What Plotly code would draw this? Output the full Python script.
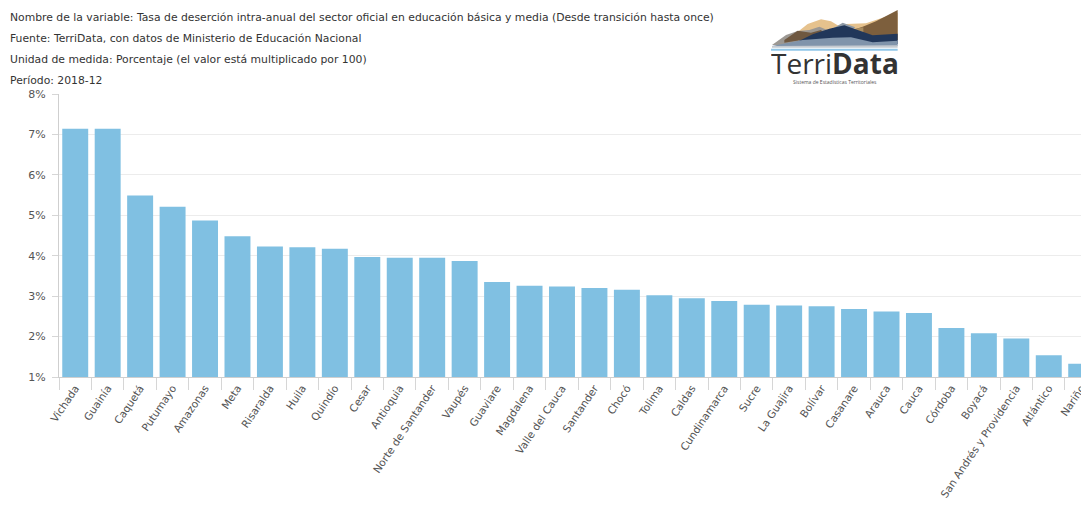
import plotly.graph_objects as go

# ---- data ----
departamentos = [
    "Vichada", "Guainía", "Caquetá", "Putumayo", "Amazonas", "Meta", "Risaralda",
    "Huila", "Quindío", "Cesar", "Antioquia", "Norte de Santander", "Vaupés",
    "Guaviare", "Magdalena", "Valle del Cauca", "Santander", "Chocó", "Tolima",
    "Caldas", "Cundinamarca", "Sucre", "La Guajira", "Bolívar", "Casanare",
    "Arauca", "Cauca", "Córdoba", "Boyacá", "San Andrés y Providencia",
    "Atlántico", "Nariño",
]
tasa_desercion = [
    7.14, 7.14, 5.49, 5.21, 4.87, 4.48, 4.23, 4.21, 4.17, 3.97, 3.95, 3.95, 3.87,
    3.35, 3.26, 3.24, 3.20, 3.16, 3.02, 2.95, 2.88, 2.79, 2.77, 2.75, 2.68,
    2.62, 2.58, 2.21, 2.08, 1.95, 1.54, 1.33,
]
y_ticks = [1, 2, 3, 4, 5, 6, 7, 8]
y_tick_labels = ["1%", "2%", "3%", "4%", "5%", "6%", "7%", "8%"]

header_lines = [
    "Nombre de la variable: Tasa de deserción intra-anual del sector oficial en educación básica y media (Desde transición hasta once)",
    "Fuente: TerriData, con datos de Ministerio de Educación Nacional",
    "Unidad de medida: Porcentaje (el valor está multiplicado por 100)",
    "Período: 2018-12",
]

# ---- layout geometry (figure pixels; page adds an 8px body margin) ----
OFF = 8
W, H = 1081, 500
ML, MR, MT, MB = 51, 0, 86, 131
PW, PH = W - ML - MR, H - MT - MB
FONT = "DejaVu Sans, sans-serif"


def S(px, py):
    """screen pixel -> paper coordinates"""
    fx, fy = px - OFF, py - OFF
    return (fx - ML) / PW, (H - MB - fy) / PH


def path(points):
    pts = [S(x, y) for x, y in points]
    return "M " + " L ".join(f"{x:.5f},{y:.5f}" for x, y in pts) + " Z"


def zp(points):
    # logo outline measured on a 3x crop whose origin is screen (766, 0)
    return [(766 + x / 3, y / 3) for x, y in points]


fig = go.Figure()
fig.add_trace(go.Bar(
    x=departamentos, y=tasa_desercion,
    marker=dict(color="rgb(128,192,226)", line=dict(width=0)),
    hoverinfo="x+y",
))

annotations = []
for i, line in enumerate(header_lines):
    x, y = S(8, 17 + 21.2 * i)
    annotations.append(dict(
        text=line, x=x, y=y, xref="paper", yref="paper", xanchor="left",
        yanchor="middle", showarrow=False,
        font=dict(family=FONT, size=10.8, color="#333333"),
    ))

# logo text
x, y = S(835, 63)
annotations.append(dict(
    text="Terri<b>Data</b>", x=x, y=y, xref="paper", yref="paper",
    xanchor="center", yanchor="middle", showarrow=False, height=26, borderpad=0,
    font=dict(family="Open Sans, sans-serif", size=28, color="#333333"),
))
x, y = S(835, 82.5)
annotations.append(dict(
    text="Sistema de Estadísticas Territoriales", x=x, y=y, xref="paper", yref="paper",
    xanchor="center", yanchor="middle", showarrow=False, borderpad=0,
    font=dict(family="Open Sans, sans-serif", size=5, color="#555555"),
))

shapes = []
logo_layers = [
    ("#e6c28d", [(90, 100), (125, 72), (165, 58), (195, 64), (215, 76), (240, 72), (300, 70),
                 (395, 38), (395, 120), (90, 120)]),
    ("#7d5f3d", [(245, 95), (290, 80), (330, 64), (395, 30), (395, 120), (245, 120)]),
    ("#a88c60", [(200, 92), (230, 82), (260, 88), (292, 82), (292, 112), (200, 112)]),
    ("#9c9893", [(18, 135), (60, 105), (95, 93), (130, 90), (160, 80), (190, 92), (190, 135)]),
    ("#8f9aa6", [(200, 86), (230, 68), (268, 82), (250, 96)]),
    ("#6f5840", [(55, 120), (95, 92), (135, 98), (165, 90), (180, 108), (55, 128)]),
    ("#21375a", [(85, 130), (140, 103), (190, 86), (235, 76), (275, 90), (320, 106),
                 (395, 101), (395, 132), (85, 136)]),
    ("#8094ab", [(18, 138), (110, 120), (200, 113), (255, 112), (320, 127), (395, 122),
                 (395, 138), (18, 140)]),
    ("#c4cad0", [(18, 138), (395, 136), (395, 143), (18, 143)]),
    ("#8fc6e8", [(15, 146), (395, 146), (395, 152), (15, 152)]),
]
for col, pts in logo_layers:
    shapes.append(dict(type="path", path=path(zp(pts)), xref="paper", yref="paper",
                       fillcolor=col, line=dict(width=0), layer="above"))

fig.update_layout(
    width=W, height=H,
    margin=dict(l=ML, r=MR, t=MT, b=MB, autoexpand=False),
    paper_bgcolor="white", plot_bgcolor="white",
    showlegend=False, bargap=0.2,
    font=dict(family=FONT, size=11, color="#555555"),
    annotations=annotations, shapes=shapes,
    xaxis=dict(
        type="category", range=[-0.5, 31.24],
        tickson="boundaries", ticks="outside", ticklen=12, tickcolor="#d6d6d6",
        tickwidth=1, showline=True, linecolor="#cfcfcf", linewidth=1,
        showgrid=False, tickangle=-56,
        tickfont=dict(family=FONT, size=10.5, color="#555555"),
    ),
    yaxis=dict(
        range=[1, 8], tickvals=y_ticks, ticktext=y_tick_labels,
        ticks="outside", ticklen=6, tickcolor="#d6d6d6",
        showline=True, linecolor="#cfcfcf", linewidth=1,
        showgrid=True, gridcolor="#ececec", gridwidth=1, zeroline=False,
        tickfont=dict(family=FONT, size=11, color="#555555"), ticklabelstandoff=4,
    ),
)

fig.write_html("out.html")
